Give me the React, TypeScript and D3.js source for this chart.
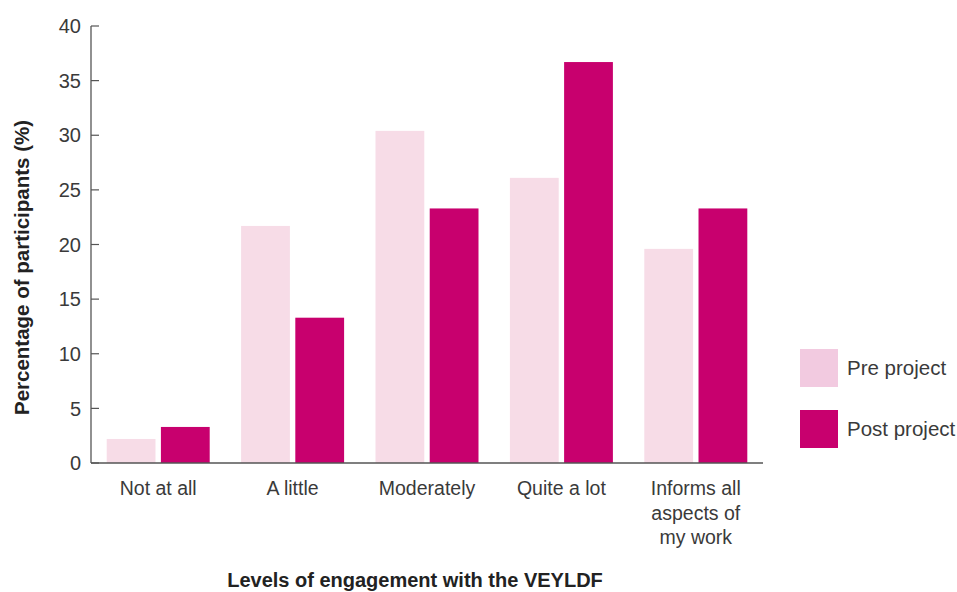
import React from "react";
import * as d3 from "d3";

const categories = ["Not at all", "A little", "Moderately", "Quite a lot", "Informs all aspects of my work"];
const categoryLines = [["Not at all"], ["A little"], ["Moderately"], ["Quite a lot"], ["Informs all", "aspects of", "my work"]];
const preProject = [2.2, 21.7, 30.4, 26.1, 19.6];
const postProject = [3.3, 13.3, 23.3, 36.7, 23.3];
const seriesNames = ["Pre project", "Post project"];
const yTicks = [0, 5, 10, 15, 20, 25, 30, 35, 40];

const W = 957, H = 592;
const left = 91, right = 763, top = 26, bottom = 463;
const FONT = "'Liberation Sans', Arial, Helvetica, sans-serif";
const PRE = "#F7DCE7";
const PRE_LEG = "#F2CAE0";
const POST = "#C8006E";
const TXT = "#3a3a3a";

export default function App() {
  const x = d3.scaleBand<string>().domain(categories).range([left, right]).paddingInner(0).paddingOuter(0);
  const y = d3.scaleLinear().domain([0, 40]).range([bottom, top]);
  const inner = d3.scaleBand<string>().domain(seriesNames).range([15.7, x.bandwidth() - 15.7]).paddingInner(0.1);
  const series = [preProject, postProject];
  const colors = [PRE, POST];

  return (
    <svg width={W} height={H} style={{ position: "absolute", left: 0, top: 0, fontFamily: FONT }}>
      <rect width={W} height={H} fill="#fff" />
      {categories.map((c, i) =>
        series.map((s, k) => (
          <rect
            key={c + k}
            x={(x(c) as number) + (inner(seriesNames[k]) as number)}
            y={y(s[i])}
            width={inner.bandwidth()}
            height={bottom - y(s[i])}
            fill={colors[k]}
          />
        ))
      )}
      <line x1={left} x2={left} y1={top} y2={bottom} stroke="#555" strokeWidth={1.3} />
      <line x1={left} x2={right} y1={bottom} y2={bottom} stroke="#555" strokeWidth={1.3} />
      {yTicks.map((t) => (
        <g key={t}>
          <line x1={left} x2={left + 8} y1={y(t)} y2={y(t)} stroke="#555" strokeWidth={1.2} />
          <text x={81} y={y(t)} dy="0.36em" textAnchor="end" fontSize={20} fill={TXT}>{t}</text>
        </g>
      ))}
      {categories.map((c, i) => (
        <text key={c} x={(x(c) as number) + x.bandwidth() / 2} y={495} textAnchor="middle" fontSize={19.5} fill={TXT}>
          {categoryLines[i].map((ln, j) => (
            <tspan key={j} x={(x(c) as number) + x.bandwidth() / 2} dy={j === 0 ? 0 : 24.5}>{ln}</tspan>
          ))}
        </text>
      ))}
      <text transform={`translate(29,${(top + bottom) / 2 + 23}) rotate(-90)`} textAnchor="middle" fontSize={20.5} fontWeight="bold" fill="#222">
        Percentage of participants (%)
      </text>
      <text x={415} y={587} textAnchor="middle" fontSize={20} fontWeight="bold" fill="#222">
        Levels of engagement with the VEYLDF
      </text>
      {seriesNames.map((n, k) => (
        <g key={n}>
          <rect x={800} y={349 + k * 61} width={38} height={38} fill={k === 0 ? PRE_LEG : POST} />
          <text x={847} y={368 + k * 61} dy="0.36em" fontSize={20.5} fill={TXT}>{n}</text>
        </g>
      ))}
    </svg>
  );
}
